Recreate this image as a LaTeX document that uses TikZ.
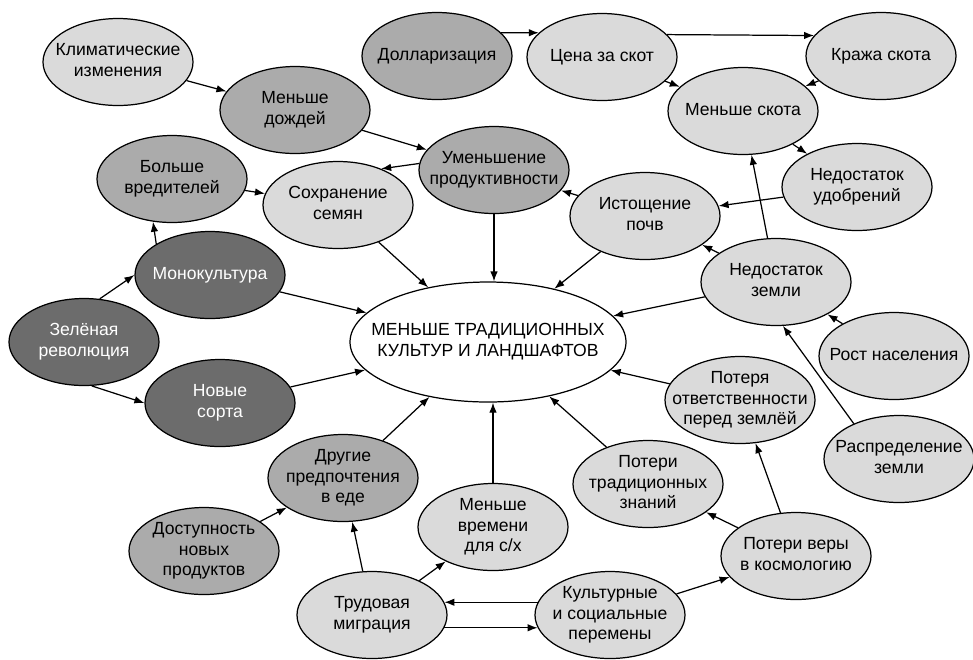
\documentclass[tikz,border=0pt]{standalone}
\usepackage{fontspec}
\setmainfont{Liberation Sans}
\usepackage{tikz}
\usetikzlibrary{shapes.geometric,arrows.meta}
\usepackage{xcolor}
\definecolor{lightgr}{HTML}{DADADA}
\definecolor{midgr}{HTML}{ABABAB}
\definecolor{darkgr}{HTML}{6C6C6C}
% text of a bubble, kept from widening the ellipse
\newcommand{\bt}[1]{\makebox[0pt]{\begin{tabular}{@{}c@{}}#1\end{tabular}}}

\begin{document}
\begin{tikzpicture}[
  bub/.style={ellipse, draw, line width=0.7pt, minimum width=3cm, minimum height=1.74cm, inner sep=0pt, font=\fontsize{10}{11.5}\selectfont},
  lightbub/.style={bub, fill=lightgr},
  midbub/.style={bub, fill=midgr},
  darkbub/.style={bub, fill=darkgr, text=white},
  arrow/.style={-{Latex[length=2mm,width=1.5mm]}, line width=0.7pt}
]
\useasboundingbox (0,0) rectangle (19.46,-13.18);

\node[bub, fill=white, minimum width=5.52cm, minimum height=2.4cm] (centr) at (9.76,-6.84) {\bt{МЕНЬШЕ ТРАДИЦИОННЫХ\\КУЛЬТУР И ЛАНДШАФТОВ}};

\node[lightbub] (klimat) at (2.36,-1.24) {\bt{Климатические\\изменения}};
\node[midbub] (dozhd) at (5.90,-2.20) {\bt{Меньше\\дождей}};
\node[midbub] (dollar) at (8.74,-1.12) {\bt{Долларизация}};
\node[lightbub] (tsena) at (12.04,-1.14) {\bt{Цена за скот}};
\node[lightbub] (krazha) at (17.62,-1.12) {\bt{Кража скота}};
\node[lightbub] (skot) at (14.86,-2.22) {\bt{Меньше скота}};
\node[midbub] (umensh) at (9.88,-3.40) {\bt{Уменьшение\\продуктивности}};
\node[midbub] (vredit) at (3.44,-3.58) {\bt{Больше\\вредителей}};
\node[lightbub] (semena) at (6.76,-4.10) {\bt{Сохранение\\семян}};
\node[lightbub] (pochva) at (12.90,-4.32) {\bt{Истощение\\почв}};
\node[lightbub] (udobr) at (17.14,-3.74) {\bt{Недостаток\\удобрений}};
\node[darkbub] (mono) at (4.20,-5.50) {\bt{Монокультура}};
\node[lightbub] (zemlya) at (15.52,-5.64) {\bt{Недостаток\\земли}};
\node[darkbub] (zelen) at (1.68,-6.84) {\bt{Зелёная\\революция}};
\node[lightbub] (rost) at (17.88,-7.12) {\bt{Рост населения}};
\node[darkbub] (sorta) at (4.40,-8.06) {\bt{Новые\\сорта}};
\node[lightbub] (otvet) at (14.80,-8.00) {\bt{Потеря\\ответственности\\перед землёй}};
\node[lightbub] (raspr) at (17.98,-9.18) {\bt{Распределение\\земли}};
\node[midbub] (eda) at (6.86,-9.56) {\bt{Другие\\предпочтения\\в еде}};
\node[lightbub] (znan) at (12.96,-9.68) {\bt{Потери\\традиционных\\знаний}};
\node[midbub] (dostup) at (4.08,-11.02) {\bt{Доступность\\новых\\продуктов}};
\node[lightbub] (vremya) at (9.86,-10.54) {\bt{Меньше\\времени\\для с/х}};
\node[lightbub] (vera) at (15.92,-11.12) {\bt{Потери веры\\в космологию}};
\node[lightbub] (migr) at (7.44,-12.30) {\bt{Трудовая\\миграция}};
\node[lightbub] (kult) at (12.20,-12.30) {\bt{Культурные\\и социальные\\перемены}};

% left side
\draw[arrow] (klimat) -- (dozhd);
\draw[arrow] (dozhd) -- (umensh);
\draw[arrow] (umensh.175) -- (semena.40);
\draw[arrow] (vredit) -- (semena);
\draw[arrow] (semena) -- (centr);
\draw[arrow] (umensh.south) -- (umensh.south |- centr.north);
\draw[arrow] (mono.150) -- (vredit.-114);
\draw[arrow] (mono) -- (centr);
\draw[arrow] (zelen.70) -- (mono.180);
\draw[arrow] (zelen.-80) -- (sorta.180);
\draw[arrow] (sorta) -- (centr);

% right side
\draw[arrow] (dollar.20) -- (tsena.159);
\draw[arrow] (tsena.19) -- (krazha.163);
\draw[arrow] (tsena) -- (skot);
\draw[arrow] (krazha) -- (skot);
\draw[arrow] (skot) -- (udobr);
\draw[arrow] (udobr) -- (pochva);
\draw[arrow] (pochva) -- (umensh);
\draw[arrow] (pochva) -- (centr);
\draw[arrow] (zemlya) -- (pochva);
\draw[arrow] (zemlya) -- (skot);
\draw[arrow] (zemlya) -- (centr);
\draw[arrow] (rost) -- (zemlya);
\draw[arrow] (raspr.142) -- (zemlya.-81);
\draw[arrow] (otvet) -- (centr);

% bottom
\draw[arrow] (znan) -- (centr);
\draw[arrow] (vremya.north) -- (vremya.north |- centr.south);
\draw[arrow] (eda) -- (centr);
\draw[arrow] (dostup) -- (eda);
\draw[arrow] (migr) -- (eda);
\draw[arrow] (migr) -- (vremya);
\draw[arrow] (kult.170) -- (migr.10);
\draw[arrow] (migr.-10) -- (kult.-170);
\draw[arrow] (kult) -- (vera);
\draw[arrow] (vera) -- (znan);
\draw[arrow] (vera) -- (otvet);
\end{tikzpicture}
\end{document}
